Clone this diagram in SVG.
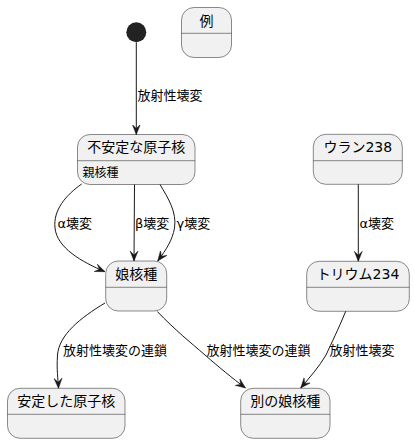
<svg xmlns="http://www.w3.org/2000/svg" width="415" height="443" viewBox="0 0 415 443">
<style>
.st{fill:#F1F1F1;stroke:#181818;stroke-width:0.5}
.dv{stroke:#181818;stroke-width:0.5}
.t{font-family:"DejaVu Sans","Noto Sans CJK JP",sans-serif;font-size:14px;fill:#000;text-anchor:middle}
.d{font-family:"DejaVu Sans","Noto Sans CJK JP",sans-serif;font-size:12px;fill:#000}
.l{font-family:"DejaVu Sans","Noto Sans CJK JP",sans-serif;font-size:13px;fill:#000}
.e{fill:none;stroke:#181818;stroke-width:1;marker-end:url(#ah)}
</style>
<defs>
<marker id="ah" viewBox="0 0 10 10" refX="10" refY="5" markerWidth="10" markerHeight="10" markerUnits="userSpaceOnUse" orient="auto">
<path d="M10,5 L0,1 L4,5 L0,9 Z" fill="#181818" stroke="#181818" stroke-width="0.5"/>
</marker>
</defs>
<rect width="415" height="443" fill="#FFFFFF"/>
<g id="start"><circle cx="136.3" cy="32.3" r="10" fill="#222222"/></g>
<g id="rei"><rect class="st" x="181.5" y="7.5" width="50" height="50" rx="12.5"/><line class="dv" x1="181.5" y1="33.3" x2="231.5" y2="33.3"/><text class="t" x="206.5" y="25.5">例</text></g>
<g id="fuantei"><rect class="st" x="77.5" y="134.5" width="117.5" height="50" rx="12.5"/><line class="dv" x1="77.5" y1="160.7" x2="195" y2="160.7"/><text class="t" x="136.3" y="152">不安定な原子核</text><text class="d" x="82.5" y="177">親核種</text></g>
<g id="musume"><rect class="st" x="105.7" y="261" width="61" height="50" rx="12.5"/><line class="dv" x1="105.7" y1="287.3" x2="166.7" y2="287.3"/><text class="t" x="136.2" y="279">娘核種</text></g>
<g id="antei"><rect class="st" x="7.5" y="388.3" width="117.5" height="50" rx="12.5"/><line class="dv" x1="7.5" y1="414.3" x2="125" y2="414.3"/><text class="t" x="66.2" y="406">安定した原子核</text></g>
<g id="betsu"><rect class="st" x="240.7" y="388.3" width="89.3" height="50" rx="12.5"/><line class="dv" x1="240.7" y1="414.3" x2="330" y2="414.3"/><text class="t" x="285.3" y="406">別の娘核種</text></g>
<g id="uran"><rect class="st" x="313.3" y="134.3" width="89" height="50" rx="12.5"/><line class="dv" x1="313.3" y1="160.7" x2="402.3" y2="160.7"/><text class="t" x="357.8" y="152">ウラン238</text></g>
<g id="torium"><rect class="st" x="306.7" y="261.3" width="102.6" height="50" rx="12.5"/><line class="dv" x1="306.7" y1="287.3" x2="409.3" y2="287.3"/><text class="t" x="358" y="279">トリウム234</text></g>
<g id="connectors">
<path class="e" d="M136.3,42.3 L136.3,134.5"/>
<text class="l" x="137.5" y="100">放射性壊変</text>
<path class="e" d="M81.7,184 C66,195 53,210 55,228 C57,248 82,262 105,271.7"/>
<text class="l" x="57.5" y="228">α壊変</text>
<path class="e" d="M134.5,184.5 L134,261"/>
<text class="l" x="135" y="228">β壊変</text>
<path class="e" d="M160,184.5 C168,198 177,212 174.5,228 C172.5,240 166,250 157.7,261"/>
<text class="l" x="176.5" y="228">γ壊変</text>
<path class="e" d="M105,303 C80,318 59,335 57.5,355 C56.5,370 58,378 58.5,388.3"/>
<text class="l" x="63" y="355">放射性壊変の連鎖</text>
<path class="e" d="M157.3,311.5 C175,330 190,342 205,355 C220,368 232,378 245.5,388"/>
<text class="l" x="206.5" y="355">放射性壊変の連鎖</text>
<path class="e" d="M358.3,184.3 L358.3,261.3"/>
<text class="l" x="359.5" y="228">α壊変</text>
<path class="e" d="M345.7,311.3 C338,330 332,342 326,355 C319,367 310,377 300.7,388"/>
<text class="l" x="329.5" y="355">放射性壊変</text>
</g>
</svg>
